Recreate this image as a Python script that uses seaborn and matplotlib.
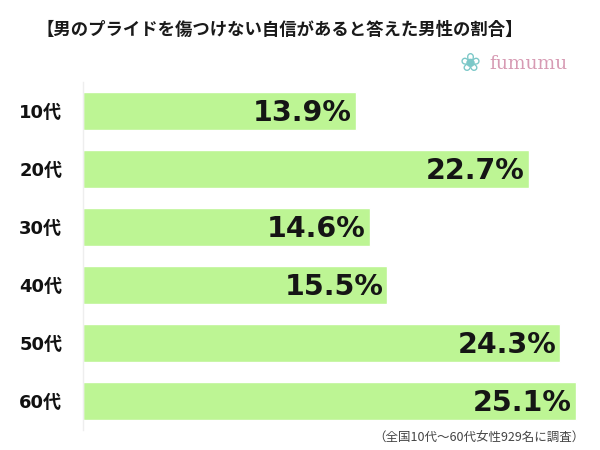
import matplotlib
matplotlib.use("Agg")
import matplotlib.pyplot as plt
import seaborn as sns
import pandas as pd

categories = ["10代", "20代", "30代", "40代", "50代", "60代"]
values = [13.9, 22.7, 14.6, 15.5, 24.3, 25.1]
value_labels = ["13.9%", "22.7%", "14.6%", "15.5%", "24.3%", "25.1%"]
title = "【男のプライドを傷つけない自信があると答えた男性の割合】"
note = "（全国10代～60代女性929名に調査）"

sns.set_theme(style="white")
plt.rcParams['font.family'] = ['Noto Sans CJK JP', 'DejaVu Sans']

df = pd.DataFrame({"cat": categories, "val": values})

fig = plt.figure(figsize=(6, 4.5), dpi=100)
ax = fig.add_axes([83/600, 1-430/450, 507/600, 348/450])
sns.barplot(data=df, x="val", y="cat", color="#bdf594", saturation=1,
            width=0.66, ax=ax, orient="h")
ax.set_xlim(0, 25.1/493*507)
ax.set_ylim(5.5, -0.5)
ax.set_xlabel("")
ax.set_ylabel("")
ax.set_xticks([])
for s in ["top", "right", "bottom"]:
    ax.spines[s].set_visible(False)
ax.spines["left"].set_color("#eeeeee")
ax.spines["left"].set_linewidth(1)
ax.tick_params(axis="y", length=0, pad=15)
for lab in ax.get_yticklabels():
    lab.set_fontsize(13)
    lab.set_fontweight("bold")
    lab.set_color("#111111")
    lab.set_family(["DejaVu Sans", "Noto Sans CJK JP"])

for i, (v, t) in enumerate(zip(values, value_labels)):
    ax.text(v - 0.2, i + 0.03, t, ha="right", va="center", fontsize=20.5,
            fontweight="bold", color="#151515", family=["DejaVu Sans"])

fig.text(280/600, 1-30/450, title, ha="center", va="center", fontsize=12.5,
         fontweight="bold", color="#1a1a1a")
fig.text(585/600, 1-438/450, note, ha="right", va="center", fontsize=9,
         color="#444444")
fig.text(470/600, 1-64/450, "❀", ha="center", va="center", fontsize=18,
         color="#7cc8c8", family=["DejaVu Sans"])
fig.text(528/600, 1-64/450, "fumumu", ha="center", va="center", fontsize=13.5,
         color="#d79ab3", family=["DejaVu Serif"])

fig.savefig("out.png", dpi=100, facecolor="white")
